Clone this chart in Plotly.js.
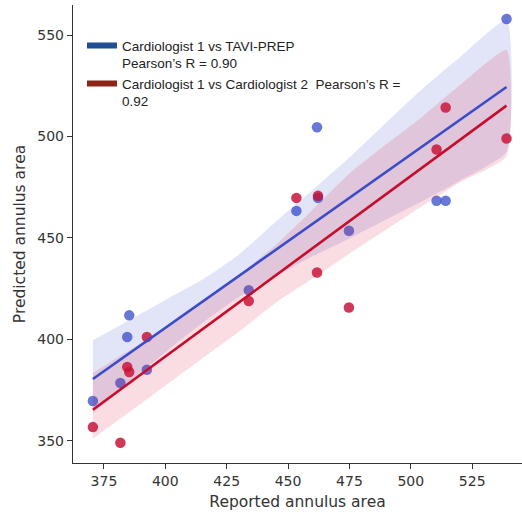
<!DOCTYPE html>
<html>
<head>
<meta charset="utf-8">
<script src="https://cdn.plot.ly/plotly-3.0.1.min.js"></script>
<style>html,body{margin:0;padding:0;background:#fff;}#chart{width:522px;height:512px;}</style>
</head>
<body>
<div id="chart"></div>
<script>
// Reported annulus area (Cardiologist 1), shared x values
const xReported = [370.5, 381.7, 384.5, 385.3, 392.5, 434.0, 453.4, 461.8, 462.2, 474.8, 510.5, 514.2, 539.0];
// Predicted annulus area: TAVI-PREP
const yTaviPrep = [369.6, 378.4, 401.1, 411.8, 385.0, 424.2, 463.3, 504.5, 469.7, 453.5, 468.3, 468.3, 557.9];
// Predicted annulus area: Cardiologist 2
const yCardio2 = [356.7, 349.0, 386.3, 383.9, 401.1, 418.9, 469.7, 432.9, 470.7, 415.7, 493.6, 514.3, 499.0];

// Confidence bands
const bandX = [370.5, 385, 400, 415, 430, 445, 460, 475, 490, 505, 520, 539];
const taviUpper = [399.5, 409.1, 419.4, 429.3, 441.8, 458.0, 473.6, 489.6, 506.9, 523.8, 539.1, 557.4];
const taviLower = [363.4, 378.3, 393.6, 407.9, 420.8, 431.1, 440.9, 449.7, 459.0, 468.3, 478.2, 492.4];
const cardioUpper = [383.3, 394.3, 405.6, 418.0, 431.7, 446.5, 463.9, 481.7, 496.1, 510.0, 525.3, 542.6];
const cardioLower = [351.0, 363.8, 377.1, 390.5, 403.7, 418.0, 429.9, 442.2, 454.1, 466.0, 477.3, 490.2];

const legendTavi = 'Cardiologist 1 vs TAVI-PREP<br>Pearson\u2019s R = 0.90';
const legendCardio = 'Cardiologist 1 vs Cardiologist 2\u00a0 Pearson\u2019s R =<br>0.92';
const xTicks = [375, 400, 425, 450, 475, 500, 525];
const yTicks = [350, 400, 450, 500, 550];

function fit(xs, ys) {
  const n = xs.length;
  const mx = xs.reduce((a, b) => a + b, 0) / n;
  const my = ys.reduce((a, b) => a + b, 0) / n;
  let sxy = 0, sxx = 0;
  for (let i = 0; i < n; i++) { sxy += (xs[i] - mx) * (ys[i] - my); sxx += (xs[i] - mx) ** 2; }
  const b = sxy / sxx;
  const a = my - b * mx;
  const x0 = Math.min(...xs), x1 = Math.max(...xs);
  return { x: [x0, x1], y: [a + b * x0, a + b * x1] };
}

function band(xs, up, lo, color) {
  return {
    x: xs.concat(xs.slice().reverse()),
    y: up.concat(lo.slice().reverse()),
    type: 'scatter', mode: 'lines', fill: 'toself',
    fillcolor: color, line: { width: 0, shape: 'spline', smoothing: 0.5 },
    hoverinfo: 'skip', showlegend: false
  };
}

const blueDot = 'rgba(66,86,206,0.8)';
const redDot = 'rgba(196,14,50,0.82)';
const blueLine = 'rgb(58,76,200)';
const redLine = 'rgb(200,12,44)';

const fT = fit(xReported, yTaviPrep);
const fC = fit(xReported, yCardio2);

const traces = [
  { x: xReported, y: yTaviPrep, type: 'scatter', mode: 'markers', marker: { size: 10.5, color: blueDot }, showlegend: false },
  band(bandX, taviUpper, taviLower, 'rgba(58,76,200,0.15)'),
  { x: xReported, y: yCardio2, type: 'scatter', mode: 'markers', marker: { size: 10.5, color: redDot }, showlegend: false },
  band(bandX, cardioUpper, cardioLower, 'rgba(222,30,60,0.15)'),
  { x: fT.x, y: fT.y, type: 'scatter', mode: 'lines', line: { color: blueLine, width: 2.6 }, showlegend: false },
  { x: fC.x, y: fC.y, type: 'scatter', mode: 'lines', line: { color: redLine, width: 2.6 }, showlegend: false },
  { x: [null], y: [null], type: 'scatter', mode: 'lines', name: legendTavi, line: { color: '#1d4f92', width: 6 } },
  { x: [null], y: [null], type: 'scatter', mode: 'lines', name: legendCardio, line: { color: '#8c2418', width: 6 } }
];

const axisCommon = {
  showgrid: false, zeroline: false, showline: true, linecolor: '#333', linewidth: 1.2,
  ticks: 'outside', ticklen: 5, tickwidth: 1, tickcolor: '#333',
  tickfont: { family: 'DejaVu Sans', size: 14, color: '#333' }
};

const layout = {
  width: 522, height: 512,
  margin: { l: 73, r: 0, t: 5, b: 49 },
  paper_bgcolor: '#fff', plot_bgcolor: '#fff',
  xaxis: Object.assign({}, axisCommon, {
    range: [362.4, 545.3], tickvals: xTicks, ticktext: xTicks.map(String),
    title: { text: 'Reported annulus area', font: { family: 'DejaVu Sans', size: 15.5, color: '#333' }, standoff: 8 }
  }),
  yaxis: Object.assign({}, axisCommon, {
    range: [339.0, 564.8], tickvals: yTicks, ticktext: yTicks.map(String),
    title: { text: 'Predicted annulus area', font: { family: 'DejaVu Sans', size: 15.5, color: '#333' }, standoff: 7 }
  }),
  legend: {
    x: 0.02, y: 0.945, xanchor: 'left', yanchor: 'top', valign: 'top',
    bgcolor: 'rgba(0,0,0,0)', borderwidth: 0,
    font: { family: 'Liberation Sans, Arial, sans-serif', size: 13.5, color: '#222' },
    tracegroupgap: 0
  },
  showlegend: true
};

Plotly.newPlot('chart', traces, layout, { displayModeBar: false, staticPlot: true });
</script>
</body>
</html>
